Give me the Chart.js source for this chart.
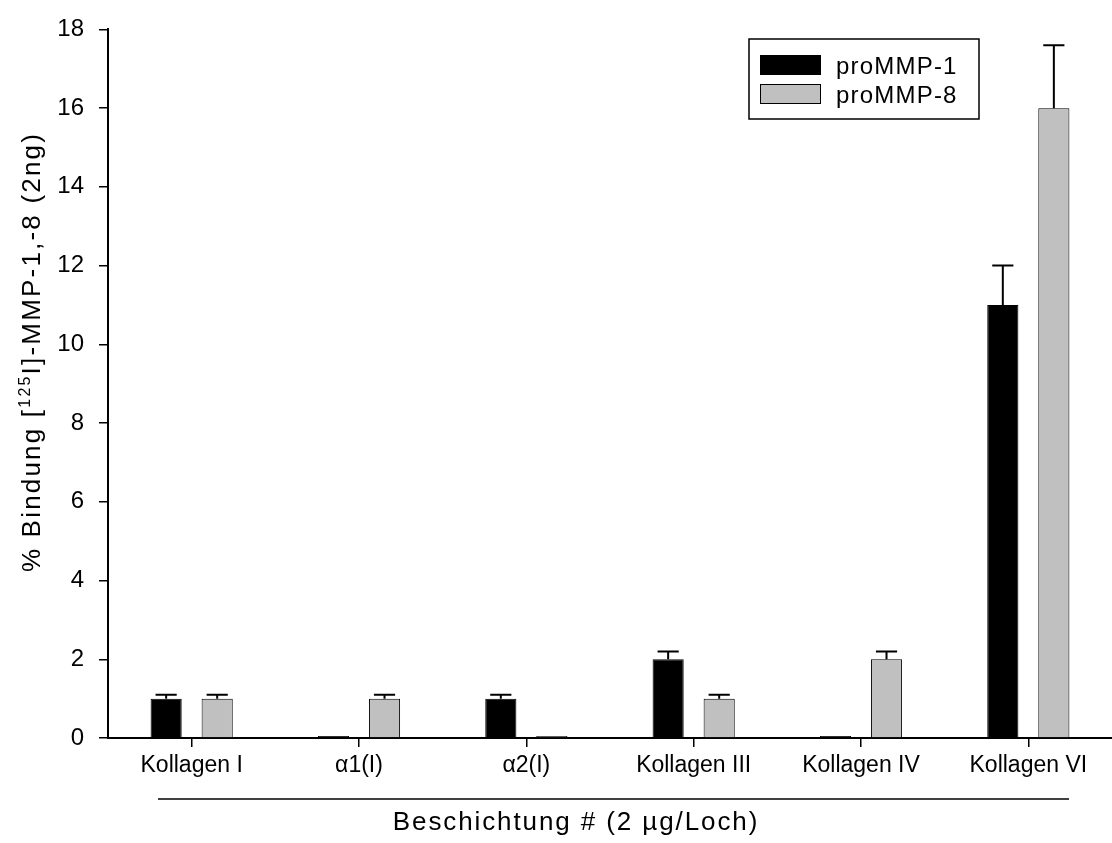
<!DOCTYPE html>
<html>
<head>
<meta charset="utf-8">
<script src="https://cdn.jsdelivr.net/npm/chart.js@4/dist/chart.umd.min.js"></script>
<style>
  html, body { margin: 0; padding: 0; background: #fff; }
  canvas { display: block; }
</style>
</head>
<body>
<canvas id="grafico" width="1112" height="843"></canvas>
<script>
// Daten
const kategorien = ["Kollagen I", "\u03b11(I)", "\u03b12(I)", "Kollagen III", "Kollagen IV", "Kollagen VI"];
const proMMP1 = [1, 0, 1, 2, 0, 11];
const proMMP1Fehler = [0.1, 0, 0.1, 0.2, 0, 1];
const proMMP8 = [1, 1, 0, 1, 2, 16];
const proMMP8Fehler = [0.1, 0.1, 0, 0.1, 0.2, 1.6];
const yTicks = [0, 2, 4, 6, 8, 10, 12, 14, 16, 18];

const schrift = "Arial, 'Liberation Sans', Helvetica, sans-serif";

// Fehlerbalken nur nach oben, mit Querstrich
const fehlerbalken = {
  id: "fehlerbalken",
  afterDatasetsDraw(chart) {
    const ctx = chart.ctx;
    const y = chart.scales.y;
    chart.data.datasets.forEach((ds, i) => {
      const meta = chart.getDatasetMeta(i);
      meta.data.forEach((bar, j) => {
        const err = ds.fehler[j];
        if (!err) return;
        const yOben = y.getPixelForValue(ds.data[j] + err);
        const kappe = bar.width * 0.34;
        ctx.save();
        ctx.strokeStyle = "#000";
        ctx.lineWidth = 2;
        ctx.beginPath();
        ctx.moveTo(bar.x, bar.y);
        ctx.lineTo(bar.x, yOben);
        ctx.moveTo(bar.x - kappe, yOben);
        ctx.lineTo(bar.x + kappe, yOben);
        ctx.stroke();
        ctx.restore();
      });
    });
  }
};

// Achsentitel, Trennlinie und Legende
const beschriftung = {
  id: "beschriftung",
  afterDraw(chart) {
    const ctx = chart.ctx;
    ctx.save();
    ctx.fillStyle = "#000";
    ctx.strokeStyle = "#000";

    // Linie unter den Kategorien
    ctx.lineWidth = 1.5;
    ctx.beginPath();
    ctx.moveTo(158, 799);
    ctx.lineTo(1069, 799);
    ctx.stroke();

    // x-Titel
    ctx.font = "26px " + schrift;
    ctx.letterSpacing = "1.9px";
    ctx.textAlign = "center";
    ctx.textBaseline = "alphabetic";
    ctx.fillText("Beschichtung # (2 \u00b5g/Loch)", 576, 830);

    // y-Titel mit Hochzahl
    ctx.save();
    ctx.translate(40, 352);
    ctx.rotate(-Math.PI / 2);
    ctx.textAlign = "left";
    ctx.letterSpacing = "2.2px";
    const t1 = "% Bindung [";
    const hoch = "125";
    const t2 = "I]-MMP-1,-8 (2ng)";
    ctx.font = "26px " + schrift;
    const w1 = ctx.measureText(t1).width;
    const w2 = ctx.measureText(t2).width;
    ctx.font = "16px " + schrift;
    const wh = ctx.measureText(hoch).width;
    let x = -(w1 + wh + w2) / 2;
    ctx.font = "26px " + schrift;
    ctx.fillText(t1, x, 0);
    x += w1;
    ctx.font = "16px " + schrift;
    ctx.fillText(hoch, x, -10);
    x += wh;
    ctx.font = "26px " + schrift;
    ctx.fillText(t2, x, 0);
    ctx.restore();

    // Legende
    ctx.lineWidth = 1.5;
    ctx.strokeRect(749, 39, 230, 80);
    ctx.font = "24px " + schrift;
    ctx.letterSpacing = "1.2px";
    ctx.textAlign = "left";
    chart.data.datasets.forEach((ds, i) => {
      const y0 = 55 + i * 29;
      ctx.fillStyle = ds.backgroundColor;
      ctx.fillRect(760, y0, 61, 20);
      ctx.lineWidth = 1;
      ctx.strokeRect(760.5, y0 + 0.5, 60, 19);
      ctx.fillStyle = "#000";
      ctx.fillText(ds.label, 836, y0 + 19);
    });
    ctx.restore();
  }
};

new Chart(document.getElementById("grafico"), {
  type: "bar",
  data: {
    labels: kategorien,
    datasets: [
      {
        label: "proMMP-1",
        data: proMMP1,
        fehler: proMMP1Fehler,
        backgroundColor: "#000000",
        borderColor: "#000000",
        borderWidth: 1
      },
      {
        label: "proMMP-8",
        data: proMMP8,
        fehler: proMMP8Fehler,
        backgroundColor: "#c0c0c0",
        borderColor: "#000000",
        borderWidth: 1
      }
    ]
  },
  options: {
    responsive: false,
    animation: false,
    devicePixelRatio: 1,
    categoryPercentage: 0.61,
    barPercentage: 0.61,
    minBarLength: 2,
    layout: { padding: { top: 25, right: 0, left: 0, bottom: 0 } },
    plugins: {
      legend: { display: false },
      tooltip: { enabled: false }
    },
    scales: {
      x: {
        offset: true,
        grid: { offset: false, drawOnChartArea: false, drawTicks: true, tickLength: 9, color: "#000", lineWidth: 1.5 },
        border: { color: "#000", width: 2 },
        ticks: { color: "#000", font: { size: 23, family: schrift }, padding: 5, maxRotation: 0, autoSkip: false },
        afterFit(scale) { scale.height = 105; }
      },
      y: {
        min: 0,
        max: 18,
        afterBuildTicks(scale) { scale.ticks = yTicks.map(v => ({ value: v })); },
        grid: { drawOnChartArea: false, drawTicks: true, tickLength: 9, color: "#000", lineWidth: 1.5 },
        border: { color: "#000", width: 2 },
        ticks: { color: "#000", font: { size: 24, family: schrift }, padding: 15 },
        afterFit(scale) { scale.width = 108; }
      }
    }
  },
  plugins: [fehlerbalken, beschriftung]
});
</script>
</body>
</html>
